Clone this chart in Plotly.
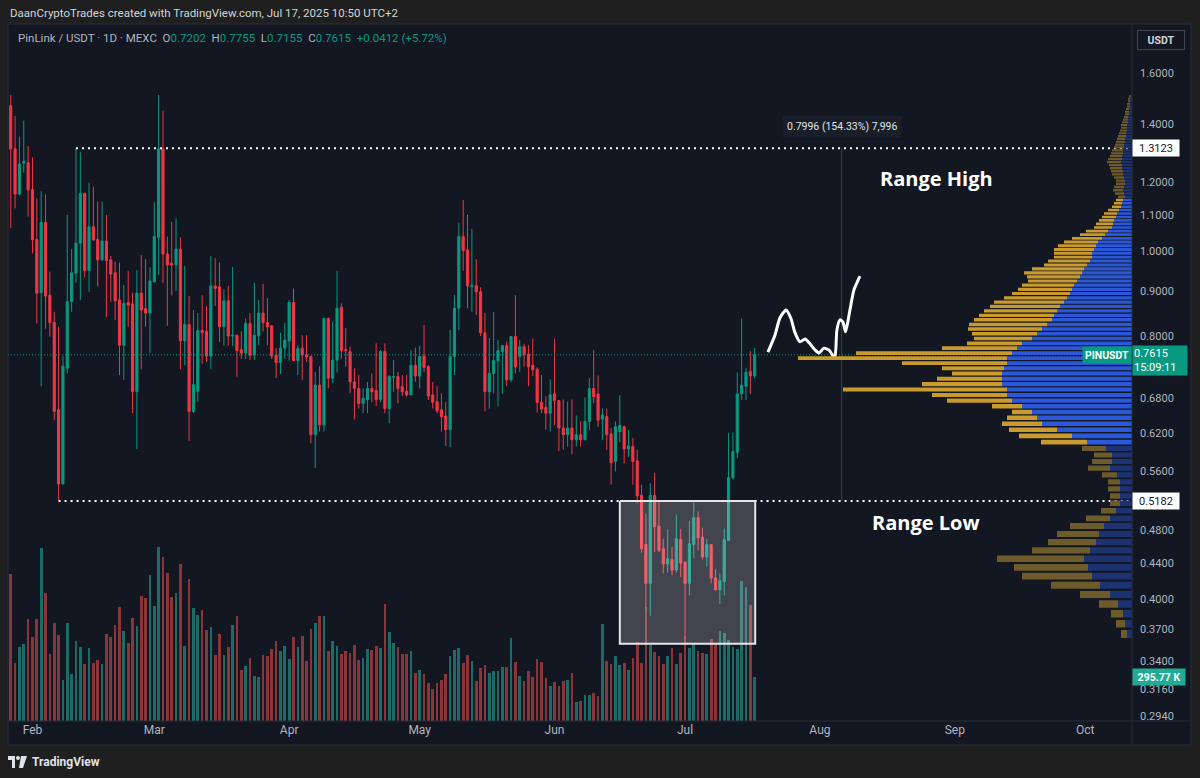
import math
import pandas as pd
import plotly.graph_objects as go

# ---------------- data ----------------
start_date = "2025-01-27"
n_days = 172
dates = pd.date_range(start_date, periods=n_days, freq="D")

opens = [1.468,1.310,1.163,1.262,1.263,1.176,1.032,0.897,1.079,0.891,
         0.829,0.659,0.542,0.735,0.876,0.944,1.022,1.165,0.951,1.067,
         1.032,0.978,1.028,0.978,0.945,0.880,0.781,0.874,0.871,0.691,
         0.896,0.860,0.850,0.923,1.038,1.310,0.993,0.969,0.965,1.006,
         0.790,0.825,0.656,0.692,0.812,0.810,0.759,0.913,0.911,0.820,
         0.878,0.800,0.802,0.772,0.765,0.827,0.761,0.800,0.850,0.829,
         0.822,0.761,0.746,0.775,0.790,0.874,0.750,0.775,0.761,0.758,
         0.617,0.703,0.633,0.838,0.716,0.751,0.863,0.772,0.768,0.709,
         0.697,0.670,0.677,0.697,0.693,0.677,0.768,0.661,0.718,0.719,
         0.700,0.692,0.685,0.741,0.720,0.759,0.738,0.685,0.673,0.659,
         0.648,0.625,0.758,0.861,1.040,1.004,0.911,0.914,0.899,0.807,
         0.691,0.725,0.750,0.768,0.780,0.713,0.799,0.758,0.778,0.763,
         0.741,0.733,0.672,0.663,0.653,0.687,0.675,0.628,0.617,0.628,
         0.609,0.617,0.609,0.639,0.697,0.687,0.643,0.647,0.618,0.575,
         0.622,0.630,0.594,0.598,0.576,0.526,0.462,0.417,0.526,0.485,
         0.457,0.439,0.444,0.432,0.468,0.441,0.417,0.462,0.496,0.471,
         0.447,0.462,0.423,0.410,0.419,0.467,0.551,0.589,0.687,0.701,
         0.729,0.7202]
highs = [1.510,1.428,1.353,1.411,1.320,1.281,1.150,1.172,1.162,0.948,
         0.853,0.820,0.759,1.101,1.006,1.3123,1.300,1.167,1.198,1.186,
         1.140,1.140,1.101,0.988,0.973,0.971,0.915,0.950,0.897,0.952,
         0.991,0.980,0.959,1.138,1.510,1.449,1.040,1.081,1.091,1.038,
         0.962,0.889,0.857,0.850,0.891,0.866,0.988,0.982,0.971,0.905,
         0.913,0.960,0.803,0.810,0.838,0.850,0.921,0.880,0.918,0.884,
         0.823,0.775,0.807,0.829,0.880,0.907,0.781,0.802,0.802,0.760,
         0.728,0.739,0.840,0.840,0.831,0.950,0.872,0.817,0.778,0.735,
         0.722,0.697,0.709,0.725,0.785,0.771,0.785,0.722,0.751,0.728,
         0.722,0.722,0.771,0.776,0.780,0.824,0.741,0.709,0.701,0.688,
         0.672,0.813,0.891,1.079,1.145,1.101,1.061,0.980,0.910,0.850,
         0.796,0.852,0.792,0.781,0.789,0.800,0.891,0.792,0.784,0.781,
         0.795,0.737,0.722,0.683,0.714,0.795,0.675,0.677,0.673,0.677,
         0.649,0.639,0.681,0.716,0.771,0.721,0.661,0.661,0.628,0.639,
         0.685,0.632,0.625,0.612,0.593,0.541,0.501,0.543,0.558,0.517,
         0.469,0.481,0.459,0.500,0.481,0.442,0.492,0.518,0.504,0.483,
         0.469,0.462,0.433,0.428,0.482,0.620,0.621,0.727,0.838,0.736,
         0.769,0.7755]
lows = [1.064,1.120,1.160,1.230,1.096,0.995,0.827,0.701,0.816,0.799,
        0.641,0.5182,0.541,0.725,0.853,0.921,0.880,0.934,0.899,1.028,
        0.912,0.976,0.841,0.876,0.835,0.722,0.713,0.820,0.653,0.594,
        0.733,0.820,0.765,0.921,0.940,0.921,0.822,0.891,0.901,0.733,
        0.741,0.607,0.653,0.673,0.744,0.748,0.733,0.866,0.788,0.780,
        0.780,0.780,0.719,0.753,0.753,0.751,0.751,0.781,0.810,0.781,
        0.753,0.716,0.724,0.754,0.750,0.750,0.722,0.713,0.748,0.603,
        0.565,0.622,0.622,0.697,0.707,0.727,0.754,0.738,0.688,0.642,
        0.661,0.653,0.653,0.672,0.665,0.672,0.653,0.636,0.691,0.670,
        0.683,0.682,0.685,0.709,0.697,0.728,0.676,0.661,0.653,0.622,
        0.599,0.597,0.722,0.813,0.950,0.861,0.853,0.846,0.800,0.656,
        0.661,0.688,0.665,0.687,0.701,0.709,0.725,0.728,0.738,0.701,
        0.720,0.654,0.653,0.625,0.622,0.633,0.591,0.593,0.598,0.586,
        0.598,0.598,0.608,0.625,0.670,0.630,0.608,0.593,0.541,0.560,
        0.605,0.572,0.582,0.541,0.515,0.452,0.390,0.383,0.453,0.453,
        0.428,0.429,0.426,0.429,0.424,0.360,0.404,0.446,0.455,0.444,
        0.436,0.417,0.410,0.395,0.404,0.467,0.548,0.580,0.676,0.676,
        0.687,0.7155]
closes = [1.310,1.163,1.259,1.268,1.176,1.031,0.896,1.079,0.889,0.829,
          0.656,0.542,0.739,0.876,0.945,1.022,1.165,0.950,1.067,1.031,
          0.978,1.028,0.976,0.942,0.878,0.781,0.872,0.868,0.691,0.896,
          0.857,0.850,0.925,1.040,1.310,0.993,0.965,0.965,1.006,0.790,
          0.825,0.656,0.704,0.812,0.807,0.759,0.913,0.907,0.820,0.878,
          0.800,0.802,0.770,0.765,0.827,0.761,0.802,0.850,0.829,0.820,
          0.759,0.746,0.775,0.792,0.874,0.750,0.774,0.761,0.757,0.617,
          0.703,0.633,0.838,0.716,0.751,0.861,0.770,0.770,0.709,0.697,
          0.670,0.679,0.697,0.691,0.677,0.768,0.661,0.719,0.719,0.697,
          0.691,0.685,0.741,0.720,0.758,0.737,0.683,0.672,0.657,0.647,
          0.625,0.758,0.861,1.040,1.002,0.913,0.915,0.899,0.807,0.691,
          0.725,0.750,0.770,0.780,0.713,0.799,0.738,0.778,0.761,0.738,
          0.732,0.672,0.660,0.653,0.685,0.675,0.628,0.617,0.628,0.609,
          0.617,0.609,0.639,0.697,0.682,0.641,0.650,0.617,0.573,0.630,
          0.632,0.594,0.599,0.575,0.525,0.457,0.417,0.526,0.484,0.455,
          0.439,0.445,0.432,0.469,0.440,0.417,0.463,0.496,0.470,0.447,
          0.462,0.423,0.410,0.420,0.468,0.551,0.590,0.687,0.703,0.727,
          0.7203,0.7615]
volumes_k = [980,389,492,514,679,559,683,1154,853,446,
             653,574,274,653,312,534,496,379,486,389,
             407,379,581,559,641,762,601,523,690,635,
             835,820,973,768,1160,1094,991,826,853,1047,
             501,949,753,706,741,608,626,441,581,441,
             496,639,699,341,367,419,301,294,443,432,
             481,532,468,503,414,559,492,570,401,613,
             653,701,701,468,534,503,448,468,456,508,
             407,423,481,474,503,486,782,593,519,492,
             448,448,470,323,341,312,252,214,256,274,
             312,434,474,488,385,439,403,269,356,374,
             319,336,336,363,363,552,396,301,269,336,
             296,414,396,285,236,259,236,269,274,319,
             125,134,174,174,185,167,648,401,381,434,
             374,385,341,423,526,389,764,510,463,434,
             379,434,486,381,452,568,486,519,468,456,
             446,548,514,601,586,541,496,479,935,893,
             775,295.77]

# volume profile (visible range), rows bottom -> top
profile_low = 0.36
profile_step = 0.01
profile_total = [11,16,21,33,52,81,110,118,135,100,
                 84,75,62,46,31,22,22,24,24,30,
                 44,40,38,50,91,113,123,130,125,120,
                 140,185,200,289,210,195,180,190,230,334,
                 276,190,165,158,160,164,163,158,153,148,
                 142,138,128,120,114,110,104,105,108,100,
                 88,84,78,78,78,74,68,60,52,46,
                 38,36,33,30,28,24,20,18,16,14,
                 17,19,18,16,16,18,20,21,22,23,
                 25,24,22,21,20,18,17,16,15,14,
                 13,12,11,11,10,9,8,7,7,6,
                 5,5,4,4,3]
profile_up = [5,7,9,14,22,32,40,44,48,42,
              36,33,28,22,16,12,12,12,12,15,
              22,20,20,26,45,60,75,90,95,100,
              110,120,125,125,130,130,130,128,125,125,
              120,115,110,100,95,90,85,80,78,75,
              72,68,65,62,60,58,55,52,50,48,
              45,42,40,40,38,36,34,30,27,24,
              20,19,18,16,15,13,11,10,9,7,
              8,9,8,7,7,8,9,9,10,10,
              11,10,10,9,9,8,8,7,7,6,
              6,5,5,5,4,4,4,3,3,3,
              2,2,2,2,1]
value_area = (0.60, 1.15)

range_high = 1.3123
range_low = 0.5182
range_high_start = "2025-02-11"
range_low_start = "2025-02-07"

month_ticks = ["2025-02-01","2025-03-01","2025-04-01","2025-05-01","2025-06-01",
               "2025-07-01","2025-08-01","2025-09-01","2025-10-01"]
month_labels = ["Feb","Mar","Apr","May","Jun","Jul","Aug","Sep","Oct"]
price_ticks = [1.6,1.4,1.2,1.1,1.0,0.9,0.8,0.68,0.62,0.56,0.48,0.44,0.40,0.37,0.34,0.316,0.294]

# annotation drawings
box_start, box_end = "2025-06-16", "2025-07-17 03:00"
box_low = 0.3557
measure_date = "2025-08-06"
measure_text = "0.7996 (154.33%) 7,996"
sketch_days = [174.05,175.66,176.8,178.2,179.3,180.2,181.4,182.6,183.7,184.9,185.8,
               186.9,188.1,189.4,189.9,190.6,191.3,191.9,192.9,193.8,195.2]
sketch_prices = [0.767,0.802,0.839,0.857,0.839,0.809,0.788,0.794,0.784,0.771,0.765,
                 0.775,0.771,0.755,0.813,0.835,0.830,0.809,0.857,0.903,0.937]

# ---------------- style ----------------
UP = "#089981"
DOWN = "#F23645"
VOL_UP = "#1c6b66"
VOL_DOWN = "#8a3539"
BG = "#131722"
OUTER = "#1f1f1f"
SEP = "#2a2e39"
AXIS_TXT = "#b2b5be"
FONT = "Roboto, 'Open Sans', sans-serif"

PLOT_L, PLOT_R, PLOT_T, PLOT_B = 8, 1132, 24, 721
PLOT_W = PLOT_R - PLOT_L
PLOT_H = PLOT_B - PLOT_T
def xp(px):
    return (px - PLOT_L) / PLOT_W
def yp(py):
    return (PLOT_B - py) / PLOT_H

X_LEFT = "2025-01-26 09:00"
X_RIGHT = "2025-10-11 17:30"
Y_LO, Y_HI = 0.29022, 1.8204
VOL_TOP = 4656

fig = go.Figure()

# volume
vol_colors = [VOL_UP if c >= o else VOL_DOWN for o, c in zip(opens, closes)]
fig.add_trace(go.Bar(x=dates, y=volumes_k, marker=dict(color=vol_colors, line=dict(width=0)),
                     width=0.62 * 86400000, xaxis="x", yaxis="y", hoverinfo="skip"))

# last price line
fig.add_trace(go.Scatter(x=[X_LEFT, "2025-10-20"], y=[closes[-1], closes[-1]], mode="lines",
                         line=dict(color=UP, width=1, dash="1px,2px"), xaxis="x", yaxis="y2",
                         hoverinfo="skip"))

# candles
fig.add_trace(go.Candlestick(x=dates, open=opens, high=highs, low=lows, close=closes,
                             increasing=dict(line=dict(color=UP, width=1), fillcolor=UP),
                             decreasing=dict(line=dict(color=DOWN, width=1), fillcolor=DOWN),
                             whiskerwidth=0, xaxis="x", yaxis="y2", hoverinfo="skip"))

# range lines
for d0, lvl in [(range_high_start, range_high), (range_low_start, range_low)]:
    fig.add_trace(go.Scatter(x=[d0, "2025-10-20"], y=[lvl, lvl], mode="lines",
                             line=dict(color="#ffffff", width=2, dash="2px,4px"),
                             xaxis="x", yaxis="y2", hoverinfo="skip"))

# measurement vertical line
fig.add_trace(go.Scatter(x=[measure_date, measure_date], y=[range_low, range_high], mode="lines",
                         line=dict(color="#27503a", width=1), xaxis="x", yaxis="y2", hoverinfo="skip"))

# highlight box
fig.add_trace(go.Scatter(x=[box_start, box_end, box_end, box_start, box_start],
                         y=[range_low, range_low, box_low, box_low, range_low],
                         mode="lines", fill="toself", fillcolor="rgba(255,255,255,0.2)",
                         line=dict(color="#e6e6e6", width=2), xaxis="x", yaxis="y2", hoverinfo="skip"))

# hand-drawn path
t0 = pd.Timestamp(start_date)
sketch_x = [t0 + pd.Timedelta(days=d) for d in sketch_days]
fig.add_trace(go.Scatter(x=sketch_x, y=sketch_prices, mode="lines",
                         line=dict(color="#ffffff", width=3, shape="spline", smoothing=0.6),
                         xaxis="x", yaxis="y2", hoverinfo="skip"))

# volume profile
groups = {"va_up": ([], []), "va_dn": ([], []), "up": ([], []), "dn": ([], [])}
for i, (tot, up) in enumerate(zip(profile_total, profile_up)):
    lo = profile_low + i * profile_step
    hi = lo + profile_step
    lo_d = lo + 0.12 * profile_step
    hi_d = hi - 0.12 * profile_step
    mid = (lo + hi) / 2
    in_va = value_area[0] <= mid <= value_area[1]
    kup = "va_up" if in_va else "up"
    kdn = "va_dn" if in_va else "dn"
    for key, a, b in [(kup, 0, up), (kdn, up, tot)]:
        xs, ys = groups[key]
        xs += [a, b, b, a, a, None]
        ys += [lo_d, lo_d, hi_d, hi_d, lo_d, None]
prof_colors = {"up": "#1d3272", "dn": "#6e5b2c", "va_up": "#2a58d8", "va_dn": "#c99a2e"}
for key in ["up", "dn", "va_up", "va_dn"]:
    xs, ys = groups[key]
    fig.add_trace(go.Scatter(x=xs, y=ys, mode="lines", fill="toself", fillcolor=prof_colors[key],
                             line=dict(width=0), xaxis="x2", yaxis="y2", hoverinfo="skip"))

# ---------------- layout ----------------
ann = []
def note(**kw):
    base = dict(showarrow=False, xanchor="center", yanchor="middle")
    base.update(kw)
    ann.append(base)

note(xref="paper", yref="paper", x=xp(8), y=yp(13), xanchor="left",
     text="DaanCryptoTrades created with TradingView.com, Jul 17, 2025 10:50 UTC+2",
     font=dict(family=FONT, size=11.5, color="#d1d4dc"))
chg = closes[-1] - closes[-2]
pct = chg / closes[-2] * 100
def tv(v):
    return '<span style="color:%s">%s</span>' % (UP, v)
sp = "\u00a0\u00a0"
title = ("PinLink / USDT · 1D · MEXC" + sp + "O" + tv("%.4f" % opens[-1]) + sp + "H" + tv("%.4f" % highs[-1])
         + sp + "L" + tv("%.4f" % lows[-1]) + sp + "C" + tv("%.4f" % closes[-1]) + sp
         + tv("%+.4f (%+.2f%%)" % (chg, pct)))
note(xref="paper", yref="paper", x=xp(16), y=yp(38), xanchor="left",
     text=title, font=dict(family=FONT, size=11.5, color=AXIS_TXT))
# Range texts
note(xref="paper", yref="paper", x=xp(936), y=yp(178), text="<b>Range High</b>",
     font=dict(family="'Open Sans', sans-serif", size=20, color="#ffffff"))
note(xref="paper", yref="paper", x=xp(926), y=yp(522), text="<b>Range Low</b>",
     font=dict(family="'Open Sans', sans-serif", size=20, color="#ffffff"))
# measurement label
note(xref="x", yref="paper", x=measure_date, y=yp(126), text=measure_text,
     bgcolor="#1a1e29", borderpad=4, font=dict(family=FONT, size=10.5, color="#e0e3eb"))
# price axis labels
for lvl in [range_high, range_low]:
    note(xref="paper", yref="y2", x=1.0, y=math.log10(lvl), xanchor="left",
         text="%.4f" % lvl, bgcolor="#ffffff", width=44, height=14,
         font=dict(family=FONT, size=11, color="#131722"))
note(xref="paper", yref="y2", x=1.0, y=math.log10(closes[-1]), xanchor="left",
     yshift=-6, text="%.4f<br>15:09:11" % closes[-1], bgcolor=UP,
     width=52, height=27, align="left", font=dict(family=FONT, size=11, color="#ffffff"))
note(xref="paper", yref="y2", x=1.0, y=math.log10(closes[-1]), xanchor="right",
     text="<b>PINUSDT</b>", bgcolor=UP, width=46, height=14,
     font=dict(family=FONT, size=10.5, color="#ffffff"))
note(xref="paper", yref="y", x=1.0, y=volumes_k[-1], xanchor="left",
     text="<b>%.2f K</b>" % volumes_k[-1], bgcolor="#22ab94", width=50, height=14,
     font=dict(family=FONT, size=10.5, color="#ffffff"))
note(xref="paper", yref="paper", x=xp(1161), y=yp(40), text="<b>USDT</b>",
     bgcolor=BG, bordercolor="#434651", borderwidth=1, width=44, height=16,
     font=dict(family=FONT, size=10.5, color="#d1d4dc"))
# footer
note(xref="paper", yref="paper", x=xp(30), y=yp(762), xanchor="left",
     text="<b>TradingView</b>", font=dict(family=FONT, size=12, color="#e0e3eb"))

shapes = []
shapes.append(dict(type="rect", xref="paper", yref="paper", x0=xp(8), x1=xp(1191), y0=yp(745), y1=yp(24),
                   fillcolor=BG, line=dict(color=SEP, width=1), layer="below"))
shapes.append(dict(type="line", xref="paper", yref="paper", x0=xp(1132), x1=xp(1132), y0=yp(745), y1=yp(24),
                   line=dict(color=SEP, width=1)))
shapes.append(dict(type="line", xref="paper", yref="paper", x0=xp(8), x1=xp(1191), y0=yp(721), y1=yp(721),
                   line=dict(color=SEP, width=1)))
# TradingView logo
LOGO = "#e0e3eb"
shapes.append(dict(type="rect", xref="paper", yref="paper", x0=xp(8), x1=xp(15), y0=yp(760), y1=yp(756),
                   fillcolor=LOGO, line=dict(width=0)))
shapes.append(dict(type="rect", xref="paper", yref="paper", x0=xp(12), x1=xp(15), y0=yp(768), y1=yp(756),
                   fillcolor=LOGO, line=dict(width=0)))
shapes.append(dict(type="circle", xref="paper", yref="paper", x0=xp(16), x1=xp(20), y0=yp(760), y1=yp(756),
                   fillcolor=LOGO, line=dict(width=0)))
shapes.append(dict(type="path", xref="paper", yref="paper",
                   path="M %f %f L %f %f L %f %f L %f %f Z" % (xp(21), yp(756), xp(27), yp(756), xp(23), yp(768), xp(19), yp(768)),
                   fillcolor=LOGO, line=dict(width=0)))

fig.update_layout(
    width=1200, height=778,
    margin=dict(l=PLOT_L, r=1200 - PLOT_R, t=PLOT_T, b=778 - PLOT_B),
    paper_bgcolor=OUTER, plot_bgcolor=BG,
    showlegend=False, hovermode=False,
    bargap=0,
    xaxis=dict(type="date", range=[X_LEFT, X_RIGHT], showgrid=False, zeroline=False, showline=False,
               ticks="", tickmode="array", tickvals=month_ticks, ticktext=month_labels,
               tickfont=dict(family=FONT, size=12, color=AXIS_TXT), rangeslider=dict(visible=False),
               fixedrange=True),
    xaxis2=dict(overlaying="x", anchor="y2", range=[PLOT_W, 0], visible=False, fixedrange=True),
    yaxis=dict(range=[0, VOL_TOP], visible=False, fixedrange=True),
    yaxis2=dict(type="log", overlaying="y", side="right", anchor="x",
                range=[math.log10(Y_LO), math.log10(Y_HI)], showgrid=False, zeroline=False,
                showline=False, ticks="", tickmode="array", tickvals=price_ticks,
                ticktext=["%.4f" % v for v in price_ticks], ticklabelstandoff=7,
                tickfont=dict(family=FONT, size=11, color=AXIS_TXT), fixedrange=True),
    annotations=ann,
    shapes=shapes,
)

fig.write_html("out.html")
